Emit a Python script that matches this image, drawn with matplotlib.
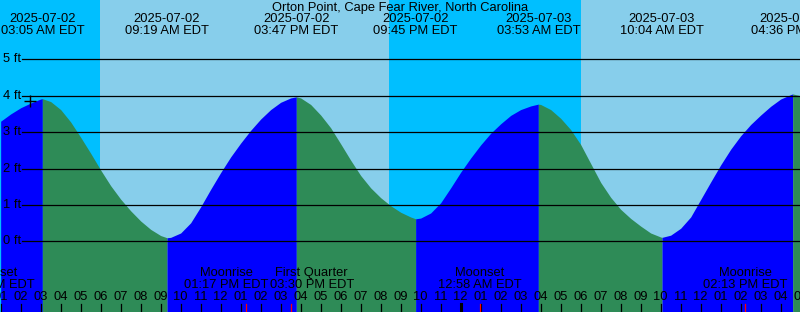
"""
Tide chart for Orton Point, Cape Fear River, NC (2025-07-02 .. 07-03).
Writes out.png (800x312).
"""

from datetime import datetime

import matplotlib

matplotlib.use("Agg")
import matplotlib.pyplot as plt
import matplotlib.transforms as mtransforms

plt.rcParams["font.family"] = ["Liberation Sans", "DejaVu Sans"]

TITLE = "Orton Point, Cape Fear River, North Carolina"
BASE = datetime(2025, 7, 2)

# tide height (ft), hours since 2025-07-02 00:00 EDT
tide_hours = [
    1.0, 1.5, 2.0, 2.5, 3.0, 3.083, 3.5, 4.0, 4.5, 5.0, 5.5, 6.0, 6.5, 7.0, 7.5,
    8.0, 8.5, 9.0, 9.317, 9.5, 10.0, 10.5, 11.0, 11.5, 12.0, 12.5, 13.0, 13.5,
    14.0, 14.5, 15.0, 15.5, 15.783, 16.0, 16.5, 17.0, 17.5, 18.0, 18.5, 19.0,
    19.5, 20.0, 20.5, 21.0, 21.5, 21.75, 22.0, 22.5, 23.0, 23.5, 24.0, 24.5,
    25.0, 25.5, 26.0, 26.5, 27.0, 27.5, 27.883, 28.0, 28.5, 29.0, 29.5, 30.0,
    30.5, 31.0, 31.5, 32.0, 32.5, 33.0, 33.5, 34.0, 34.067, 34.5, 35.0, 35.5,
    36.0, 36.5, 37.0, 37.5, 38.0, 38.5, 39.0, 39.5, 40.0, 40.5, 40.6, 41.0,
]
tide_feet = [
    3.30, 3.50, 3.67, 3.80, 3.91, 3.92, 3.84, 3.62, 3.28, 2.86, 2.42, 1.96, 1.53,
    1.16, 0.84, 0.56, 0.33, 0.16, 0.10, 0.11, 0.23, 0.51, 0.95, 1.43, 1.89, 2.32,
    2.70, 3.05, 3.36, 3.62, 3.82, 3.94, 3.97, 3.94, 3.76, 3.47, 3.12, 2.68, 2.23,
    1.81, 1.47, 1.20, 0.98, 0.80, 0.67, 0.62, 0.64, 0.78, 1.06, 1.47, 1.90, 2.29,
    2.65, 2.97, 3.23, 3.46, 3.62, 3.72, 3.77, 3.76, 3.62, 3.38, 3.07, 2.66, 2.14,
    1.62, 1.21, 0.88, 0.63, 0.42, 0.23, 0.12, 0.11, 0.17, 0.36, 0.67, 1.15, 1.63,
    2.10, 2.53, 2.90, 3.21, 3.47, 3.71, 3.91, 4.03, 4.05, 4.00,
]

# high / low tide times (labelled along the top)
tide_events = [
    "2025-07-02 03:05", "2025-07-02 09:19", "2025-07-02 15:47",
    "2025-07-02 21:45", "2025-07-03 03:53", "2025-07-03 10:04",
    "2025-07-03 16:36",
]

# night = between sunset and sunrise
night_start = ["2025-07-02 00:00", "2025-07-02 20:25"]
night_end = ["2025-07-02 05:58", "2025-07-03 06:01"]

moon_names = ["Moonset", "Moonrise", "First Quarter", "Moonset", "Moonrise"]
moon_times = [
    "2025-07-02 00:36", "2025-07-02 13:17", "2025-07-02 15:30",
    "2025-07-03 00:58", "2025-07-03 14:13",
]
# labels nudged sideways (px) so neighbours don't collide
moon_label_shift = [0, -20, 21, 0, 0]

grid_feet = [0, 1, 2, 3, 4, 5]
now_hour, now_feet = 2.47, 3.85


def to_dt(s):
    return datetime.strptime(s, "%Y-%m-%d %H:%M")


def to_hours(s):
    return (to_dt(s) - BASE).total_seconds() / 3600.0


W, H = 800, 312
PX_PER_HOUR = 20.0
T0 = 0.967            # hours at left edge
T1 = T0 + W / PX_PER_HOUR
Y0, Y1 = -1.94, 6.63
FS = 9.3

fig = plt.figure(figsize=(W / 100, H / 100), dpi=100)
ax = fig.add_axes([0, 0, 1, 1])
ax.set_xlim(T0, T1)
ax.set_ylim(Y0, Y1)
ax.axis("off")

xdata_ypix = mtransforms.blended_transform_factory(ax.transData, ax.transAxes)
xpix_ydata = mtransforms.blended_transform_factory(ax.transAxes, ax.transData)


def ypix(p):
    return 1 - p / H


# sky: day / night
ax.axvspan(T0, T1, color="#87CEEB", lw=0, zorder=0)
for a, b in zip(night_start, night_end):
    ax.axvspan(to_hours(a), to_hours(b), color="#00BFFF", lw=0, zorder=0.5)

# water: blue while rising, green while falling
ext_idx = [0] + [i for i in range(1, len(tide_feet) - 1)
                 if (tide_feet[i] - tide_feet[i - 1]) * (tide_feet[i + 1] - tide_feet[i]) < 0] \
    + [len(tide_feet) - 1]
for i0, i1 in zip(ext_idx[:-1], ext_idx[1:]):
    ts = tide_hours[i0:i1 + 1]
    hs = tide_feet[i0:i1 + 1]
    rising = hs[-1] > hs[0]
    ax.fill_between(ts, hs, Y0, color="#0000FF" if rising else "#2E8B57",
                    lw=0, zorder=1)

# height grid
for f in grid_feet:
    ax.axhline(f, xmin=22 / W, xmax=1, color="black", lw=0.9, zorder=2)
    ax.text(3 / W, f, f"{f} ft", transform=xpix_ydata, ha="left", va="center",
            fontsize=FS, zorder=3)

ax.plot([now_hour], [now_feet], marker="+", ms=8, mew=1.0, color="black", zorder=3)

ax.text(0.5, ypix(7.5), TITLE, transform=ax.transAxes, ha="center", va="center",
        fontsize=FS)

for s in tide_events:
    t = to_hours(s)
    d = to_dt(s)
    ax.text(t, ypix(19.3), d.strftime("%Y-%m-%d"), transform=xdata_ypix,
            ha="center", va="center", fontsize=FS)
    ax.text(t, ypix(31.3), d.strftime("%I:%M %p EDT"), transform=xdata_ypix,
            ha="center", va="center", fontsize=FS)

for name, s, dx in zip(moon_names, moon_times, moon_label_shift):
    t = to_hours(s)
    d = to_dt(s)
    tl = t + dx / PX_PER_HOUR
    ax.text(tl, ypix(273.3), name, transform=xdata_ypix, ha="center",
            va="center", fontsize=FS)
    ax.text(tl, ypix(285.3), d.strftime("%I:%M %p EDT"), transform=xdata_ypix,
            ha="center", va="center", fontsize=FS)
    ax.axvline(t, ymin=0, ymax=8 / H, color="red", lw=0.9, zorder=4)

# hour ticks
for hr in range(1, 42):
    hh = hr % 24
    lab = f"{(hh % 12) or 12:02d}"
    ax.text(hr, ypix(297.3), lab, transform=xdata_ypix, ha="center", va="center",
            fontsize=FS)
    ax.axvline(hr, ymin=0, ymax=8 / H, color="black",
               lw=2.2 if hh == 0 else 0.9, zorder=3)

fig.savefig("out.png", dpi=100)
